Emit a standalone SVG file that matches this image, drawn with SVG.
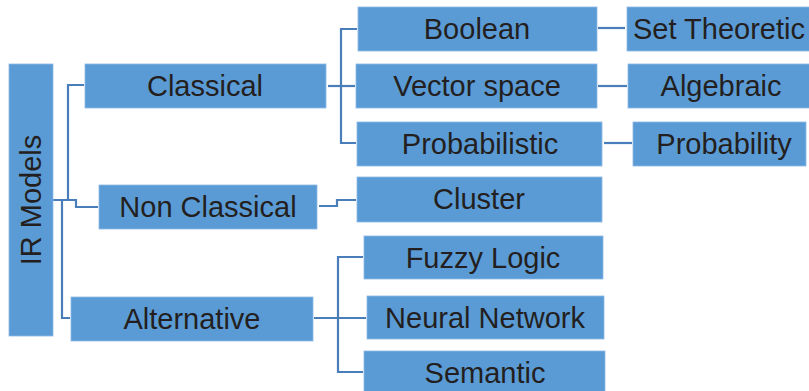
<svg xmlns="http://www.w3.org/2000/svg" width="809" height="391" viewBox="0 0 809 391">
<style>
.box{fill:#5b9bd5;stroke:#8bb8e3;stroke-width:0.8}
.lbl{font-family:"Liberation Sans",Arial,sans-serif;font-size:29px;fill:#231f20;text-anchor:middle}
.con{fill:none;stroke:#4a7ebb;stroke-width:2.2}
</style>
<rect width="809" height="391" fill="#ffffff"/>
<g id="connectors">
<path class="con" d="M53,200 H76 V207 H98"/>
<path class="con" d="M68,200 V85 H84"/>
<path class="con" d="M62,200 V318 H70"/>
<path class="con" d="M328,86 H355"/>
<path class="con" d="M341,86 V29 H357"/>
<path class="con" d="M341,86 V143 H356"/>
<path class="con" d="M598,28 H625"/>
<path class="con" d="M598,86 H627"/>
<path class="con" d="M604,143 H632"/>
<path class="con" d="M319,206 H337 V200 H356"/>
<path class="con" d="M314,318 H366"/>
<path class="con" d="M338,318 V257 H363"/>
<path class="con" d="M338,318 V372 H363"/>
</g>
<g id="ir-models"><rect class="box" x="9" y="64" width="44" height="272"/><text class="lbl" transform="translate(41,200) rotate(-90)">IR Models</text></g>
<g id="classical"><rect class="box" x="85" y="64" width="241" height="44"/><text class="lbl" x="205" y="96">Classical</text></g>
<g id="non-classical"><rect class="box" x="99" y="185" width="218" height="44"/><text class="lbl" x="208" y="217">Non Classical</text></g>
<g id="alternative"><rect class="box" x="71" y="297" width="242" height="44"/><text class="lbl" x="192" y="329">Alternative</text></g>
<g id="boolean"><rect class="box" x="358" y="7" width="239" height="44"/><text class="lbl" x="477" y="39">Boolean</text></g>
<g id="vector-space"><rect class="box" x="356" y="64" width="241" height="44"/><text class="lbl" x="477" y="96">Vector space</text></g>
<g id="probabilistic"><rect class="box" x="357" y="122" width="245" height="44"/><text class="lbl" x="480" y="154">Probabilistic</text></g>
<g id="cluster"><rect class="box" x="357" y="177" width="245" height="45"/><text class="lbl" x="479" y="209">Cluster</text></g>
<g id="fuzzy-logic"><rect class="box" x="364" y="236" width="239" height="43"/><text class="lbl" x="483" y="268">Fuzzy Logic</text></g>
<g id="neural-network"><rect class="box" x="367" y="296" width="237" height="43"/><text class="lbl" x="485" y="328">Neural Network</text></g>
<g id="semantic"><rect class="box" x="364" y="351" width="241" height="44"/><text class="lbl" x="485" y="383">Semantic</text></g>
<g id="set-theoretic"><rect class="box" x="627" y="7" width="186" height="44"/><text class="lbl" x="719" y="39">Set Theoretic</text></g>
<g id="algebraic"><rect class="box" x="628" y="64" width="186" height="44"/><text class="lbl" x="721" y="96">Algebraic</text></g>
<g id="probability"><rect class="box" x="633" y="122" width="173" height="44"/><text class="lbl" x="724" y="154">Probability</text></g>
</svg>
